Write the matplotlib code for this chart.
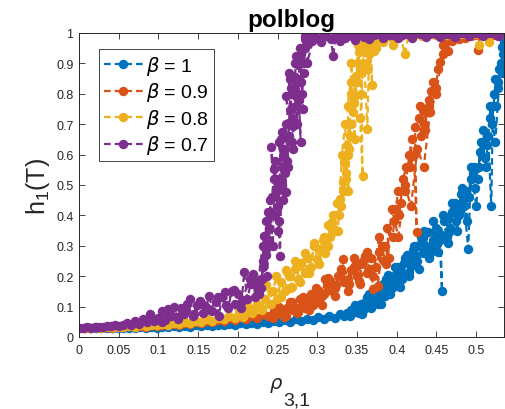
import matplotlib
matplotlib.use("Agg")
import matplotlib.pyplot as plt
from matplotlib.ticker import FuncFormatter, MultipleLocator

plt.rcParams['font.family'] = ['Liberation Sans', 'DejaVu Sans']
plt.rcParams['mathtext.fontset'] = 'dejavusans'

# ---------------- data ----------------
labels = ['1', '0.9', '0.8', '0.7']
colors = ['#0072BD', '#D95319', '#EDB120', '#7E2F8E']

blue_rho_low = [0.000,0.007,0.014,0.021,0.028,0.035,0.042,0.049,0.056,0.063,
                0.070,0.077,0.084,0.091,0.098,0.105,0.112,0.119,0.126,0.133,
                0.140,0.147,0.154,0.161,0.168,0.175,0.182,0.189,0.196,0.203,
                0.210,0.217,0.224,0.231,0.238,0.245,0.252,0.259,0.266,0.273,
                0.280,0.287,0.294,0.301,0.308,0.315,0.322,0.329,0.334,0.337]
blue_h_low = [0.030,0.031,0.029,0.031,0.030,0.029,0.031,0.030,0.028,0.031,
              0.030,0.032,0.029,0.033,0.031,0.034,0.032,0.035,0.033,0.036,
              0.034,0.038,0.035,0.039,0.037,0.041,0.038,0.043,0.040,0.045,
              0.042,0.047,0.044,0.050,0.046,0.052,0.048,0.055,0.050,0.058,
              0.053,0.059,0.056,0.066,0.060,0.070,0.064,0.076,0.070,0.080]
blue_rho_high = [0.340,0.343,0.341,0.346,0.349,0.347,0.352,0.355,0.353,0.358,
                 0.361,0.359,0.364,0.367,0.365,0.370,0.373,0.371,0.376,0.379,
                 0.377,0.382,0.385,0.383,0.388,0.391,0.389,0.394,0.397,0.395,
                 0.400,0.403,0.401,0.406,0.409,0.407,0.412,0.415,0.413,0.418,
                 0.421,0.419,0.424,0.427,0.425,0.430,0.433,0.431,0.436,0.439,
                 0.437,0.442,0.445,0.443,0.448,0.451,0.449,0.454,0.457,0.455,
                 0.460,0.463,0.461,0.466,0.469,0.467,0.472,0.475,0.473,0.478,
                 0.481,0.479,0.484,0.487,0.485,0.490,0.493,0.491,0.496,0.499,
                 0.497,0.502,0.505,0.503,0.508,0.511,0.509,0.514,0.517,0.515,
                 0.519,0.521,0.520,0.523,0.525,0.524,0.527,0.529,0.528,0.531,
                 0.532,0.533,0.534,0.535]
blue_h_high = [0.075,0.090,0.070,0.095,0.082,0.105,0.088,0.110,0.080,0.100,
               0.118,0.092,0.125,0.105,0.140,0.112,0.130,0.150,0.108,0.148,
               0.125,0.160,0.135,0.175,0.148,0.185,0.205,0.160,0.200,0.175,
               0.215,0.180,0.230,0.200,0.245,0.190,0.250,0.215,0.270,0.234,
               0.285,0.240,0.265,0.300,0.250,0.310,0.275,0.330,0.290,0.345,
               0.300,0.275,0.320,0.290,0.350,0.305,0.360,0.320,0.152,0.340,
               0.380,0.330,0.395,0.345,0.410,0.360,0.420,0.380,0.440,0.400,
               0.470,0.415,0.450,0.480,0.430,0.290,0.520,0.460,0.540,0.490,
               0.560,0.520,0.610,0.560,0.640,0.590,0.680,0.630,0.720,0.660,
               0.430,0.760,0.700,0.800,0.760,0.850,0.820,0.880,0.840,0.900,
               0.870,0.955,0.930,0.970]
blue_rho_extra = [0.356,0.362,0.368,0.374,0.380,0.386,0.392,0.398,0.404,0.410,
                  0.416,0.422,0.428,0.434,0.440,0.446,0.452,0.458,0.464,0.470,
                  0.476,0.482,0.488,0.494,0.500,0.506,0.512,0.518,0.524,0.530]
blue_h_extra = [0.075,0.130,0.095,0.155,0.110,0.190,0.140,0.230,0.165,0.260,
                0.200,0.300,0.225,0.350,0.260,0.380,0.280,0.400,0.310,0.440,
                0.350,0.490,0.380,0.560,0.430,0.640,0.560,0.760,0.640,0.880]

orange_rho_low = [0.000,0.007,0.014,0.021,0.028,0.035,0.042,0.049,0.056,0.063,
                  0.070,0.077,0.084,0.091,0.098,0.105,0.112,0.119,0.126,0.133,
                  0.140,0.147,0.154,0.161,0.168,0.175,0.182,0.189,0.196,0.203,
                  0.210,0.217,0.224,0.231,0.238]
orange_h_low = [0.030,0.031,0.030,0.032,0.031,0.033,0.031,0.034,0.032,0.035,
                0.033,0.037,0.034,0.039,0.036,0.041,0.038,0.044,0.040,0.047,
                0.043,0.050,0.046,0.053,0.049,0.057,0.052,0.062,0.056,0.066,
                0.060,0.070,0.064,0.075,0.068]
orange_rho_mid = [0.242,0.246,0.244,0.250,0.254,0.252,0.258,0.262,0.260,0.266,
                  0.270,0.268,0.274,0.278,0.276,0.282,0.286,0.284,0.290,0.294,
                  0.292,0.298,0.302,0.300,0.306,0.310,0.308,0.314,0.318,0.316,
                  0.322,0.326,0.324,0.330,0.334,0.332,0.338,0.342,0.340,0.346,
                  0.350,0.354,0.352,0.358,0.362,0.360,0.366,0.370,0.368,0.374,
                  0.378,0.376,0.382,0.384]
orange_h_mid = [0.070,0.085,0.062,0.090,0.075,0.100,0.080,0.095,0.070,0.105,
                0.088,0.115,0.095,0.125,0.082,0.110,0.125,0.095,0.120,0.105,
                0.140,0.115,0.150,0.125,0.135,0.190,0.140,0.165,0.150,0.185,
                0.160,0.200,0.170,0.215,0.180,0.257,0.190,0.220,0.175,0.230,
                0.200,0.240,0.185,0.250,0.210,0.265,0.225,0.158,0.260,0.230,
                0.280,0.169,0.300,0.250]
orange_rho_high = [0.385,0.390,0.388,0.395,0.398,0.396,0.402,0.405,0.403,0.408,
                   0.412,0.410,0.416,0.419,0.417,0.422,0.425,0.423,0.428,0.431,
                   0.429,0.434,0.437,0.435,0.440,0.443,0.441,0.446,0.449,0.452,
                   0.455,0.458,0.461,0.464,0.467,0.470,0.474,0.478,0.482,0.486,
                   0.490,0.494,0.498,0.502,0.505,0.509,0.513,0.517,0.521,0.525,
                   0.529,0.533]
orange_h_high = [0.300,0.260,0.360,0.330,0.420,0.380,0.480,0.440,0.400,0.520,
                 0.560,0.480,0.600,0.650,0.560,0.600,0.345,0.690,0.720,0.660,
                 0.760,0.700,0.740,0.680,0.780,0.810,0.760,0.840,0.820,0.880,
                 0.905,0.930,0.970,0.940,0.985,0.975,0.990,0.980,0.992,0.985,
                 0.993,0.990,0.995,0.945,0.992,0.996,0.990,0.997,0.995,0.998,
                 0.994,0.999]
orange_rho_extra = [0.250,0.258,0.266,0.274,0.282,0.290,0.298,0.306,0.314,0.322,
                    0.330,0.338,0.346,0.354,0.362,0.370,0.378,0.386,0.394,0.402,
                    0.410,0.418,0.426,0.434,0.442,0.450,0.458]
orange_h_extra = [0.100,0.065,0.115,0.078,0.130,0.090,0.160,0.105,0.195,0.135,
                  0.225,0.150,0.260,0.175,0.280,0.200,0.330,0.240,0.420,0.330,
                  0.500,0.430,0.620,0.560,0.740,0.800,0.960]

yellow_rho_low = [0.000,0.007,0.014,0.021,0.028,0.035,0.042,0.049,0.056,0.063,
                  0.070,0.077,0.084,0.091,0.098,0.105,0.112,0.119,0.126,0.133,
                  0.140,0.147,0.154,0.161,0.168,0.175,0.182,0.189,0.196,0.202,
                  0.208,0.214,0.219,0.224,0.229,0.234,0.239,0.244,0.249,0.254,
                  0.259,0.264,0.268,0.272,0.276,0.280,0.284,0.288,0.292,0.296,
                  0.300,0.304,0.307,0.310,0.313,0.316,0.319,0.322,0.325,0.327]
yellow_h_low = [0.030,0.031,0.030,0.032,0.031,0.033,0.032,0.034,0.033,0.036,
                0.034,0.038,0.036,0.040,0.038,0.043,0.040,0.046,0.043,0.050,
                0.046,0.054,0.050,0.058,0.054,0.063,0.058,0.070,0.064,0.080,
                0.072,0.095,0.085,0.110,0.095,0.125,0.110,0.150,0.125,0.180,
                0.150,0.200,0.165,0.225,0.190,0.245,0.210,0.260,0.230,0.300,
                0.255,0.290,0.320,0.275,0.370,0.330,0.377,0.350,0.440,0.400]
yellow_rho_high = [0.329,0.332,0.330,0.334,0.336,0.333,0.337,0.339,0.336,0.341,
                   0.343,0.340,0.338,0.342,0.345,0.343,0.347,0.349,0.346,0.351,
                   0.353,0.350,0.355,0.357,0.354,0.359,0.361,0.358,0.363,0.365,
                   0.362,0.367,0.369,0.366,0.371,0.373,0.370,0.375,0.377,0.374,
                   0.379,0.383,0.387,0.391,0.395,0.400,0.405,0.410,0.415,0.420,
                   0.426,0.432,0.438,0.444,0.450,0.456,0.462,0.468,0.474,0.480,
                   0.486,0.492,0.498,0.504,0.510,0.516,0.522,0.528,0.534]
yellow_h_high = [0.455,0.510,0.430,0.575,0.520,0.480,0.630,0.600,0.540,0.660,
                 0.700,0.620,0.760,0.838,0.740,0.800,0.794,0.860,0.770,0.900,
                 0.937,0.840,0.880,0.530,0.720,0.950,0.900,0.970,0.684,0.930,
                 0.880,0.960,0.830,0.975,0.940,0.985,0.960,0.975,0.990,0.950,
                 0.985,0.970,0.992,0.988,0.960,0.993,0.990,0.930,0.995,0.992,
                 0.997,0.990,0.996,0.998,0.994,0.997,0.995,0.999,0.996,0.998,
                 0.997,0.999,0.998,0.960,0.998,0.970,0.999,0.998,0.999]
yellow_rho_extra = [0.200,0.206,0.212,0.218,0.224,0.230,0.236,0.242,0.248,0.254,
                    0.260,0.266,0.272,0.278,0.284,0.290,0.296,0.302,0.308,0.314,
                    0.320,0.326,0.331,0.335,0.339,0.343,0.347,0.351,0.355,0.359,
                    0.363,0.367]
yellow_h_extra = [0.100,0.065,0.120,0.080,0.140,0.090,0.170,0.110,0.200,0.130,
                  0.220,0.160,0.250,0.180,0.275,0.210,0.310,0.240,0.330,0.300,
                  0.400,0.350,0.600,0.700,0.480,0.900,0.650,0.960,0.800,0.990,
                  0.880,0.990]

purple_rho_low = [0.000,0.005,0.010,0.015,0.020,0.025,0.030,0.035,0.040,0.045,
                  0.050,0.055,0.060,0.065,0.070,0.075,0.080,0.085,0.090,0.095,
                  0.100,0.104,0.108,0.112,0.116,0.120,0.124,0.128,0.132,0.136,
                  0.140,0.144,0.148,0.152,0.156,0.160,0.164,0.168,0.172,0.176,
                  0.180,0.184,0.188,0.192,0.196,0.200,0.204,0.208,0.212,0.216,
                  0.219,0.222,0.225,0.227]
purple_h_low = [0.030,0.031,0.032,0.031,0.033,0.034,0.033,0.036,0.035,0.038,
                0.037,0.041,0.045,0.040,0.052,0.044,0.059,0.048,0.076,0.053,
                0.062,0.085,0.055,0.092,0.068,0.100,0.060,0.095,0.075,0.110,
                0.125,0.070,0.105,0.120,0.080,0.098,0.136,0.085,0.115,0.070,
                0.130,0.147,0.095,0.152,0.110,0.140,0.095,0.213,0.125,0.175,
                0.207,0.130,0.185,0.140]
purple_rho_mid = [0.229,0.232,0.230,0.233,0.235,0.232,0.236,0.238,0.235,0.239,
                  0.241,0.239,0.243,0.245,0.242,0.246,0.248,0.245,0.250,0.252,
                  0.249,0.253,0.255,0.252,0.256,0.258,0.255,0.259,0.261,0.258,
                  0.262,0.264,0.261,0.265,0.267,0.264,0.268,0.270,0.267,0.271,
                  0.273,0.270,0.274,0.276,0.273,0.277,0.279,0.276,0.280,0.282,
                  0.279,0.283,0.285,0.282,0.286,0.288,0.285,0.289,0.291,0.290]
purple_h_mid = [0.160,0.250,0.190,0.333,0.290,0.230,0.380,0.410,0.270,0.360,
                0.410,0.320,0.460,0.520,0.625,0.400,0.480,0.553,0.430,0.380,
                0.520,0.267,0.560,0.640,0.500,0.600,0.673,0.540,0.477,0.620,
                0.580,0.660,0.794,0.700,0.750,0.870,0.640,0.720,0.820,0.800,
                0.760,0.695,0.840,0.900,0.925,0.780,0.640,0.850,0.838,0.750,
                0.930,0.870,0.980,0.900,0.960,0.985,0.950,0.970,0.990,0.980]
purple_rho_top = [0.293,0.299,0.305,0.311,0.317,0.320,0.323,0.329,0.335,0.341,
                  0.347,0.353,0.359,0.365,0.371,0.377,0.383,0.389,0.395,0.401,
                  0.407,0.413,0.419,0.425,0.431,0.437,0.443,0.449,0.455,0.461,
                  0.467,0.473,0.479,0.485,0.491,0.497,0.503,0.509,0.515,0.521,
                  0.527,0.533]
purple_h_top = [0.975,0.985,0.972,0.990,0.980,0.925,0.988,0.975,0.985,0.994,
                0.978,0.995,0.988,0.980,0.992,0.997,0.982,0.998,0.995,0.984,
                0.994,0.998,0.985,0.999,0.997,0.986,0.999,0.997,0.988,0.998,
                0.999,0.987,1.000,0.999,0.990,1.000,0.999,0.989,0.999,1.000,
                0.990,1.000]
purple_rho_extra = [0.105,0.115,0.125,0.135,0.145,0.155,0.165,0.175,0.185,0.195,
                    0.205,0.215,0.225,0.231,0.237,0.240,0.244,0.247,0.251,0.254,
                    0.257,0.260,0.263,0.266,0.269,0.272,0.275,0.278,0.281,0.284,
                    0.287,0.296,0.308,0.320,0.332,0.344,0.356,0.368,0.380,0.392,
                    0.404,0.416,0.428,0.440,0.452,0.464,0.476,0.488,0.500,0.512,
                    0.524,0.535]
purple_h_extra = [0.050,0.075,0.065,0.090,0.075,0.110,0.090,0.130,0.105,0.155,
                  0.120,0.190,0.160,0.300,0.200,0.450,0.300,0.580,0.350,0.650,
                  0.450,0.700,0.560,0.850,0.620,0.900,0.700,0.950,0.800,0.990,
                  0.900,0.990,0.995,0.985,0.998,0.990,0.997,0.993,0.999,0.995,
                  0.998,0.996,0.999,0.997,0.999,0.998,0.999,0.998,1.000,0.999,
                  1.000,1.000]

# each series: main run followed by the extra scattered run (same colour)
series_pieces = [
    [(blue_rho_low + blue_rho_high, blue_h_low + blue_h_high),
     (blue_rho_extra, blue_h_extra)],
    [(orange_rho_low + orange_rho_mid + orange_rho_high,
      orange_h_low + orange_h_mid + orange_h_high),
     (orange_rho_extra, orange_h_extra)],
    [(yellow_rho_low + yellow_rho_high, yellow_h_low + yellow_h_high),
     (yellow_rho_extra, yellow_h_extra)],
    [(purple_rho_low + purple_rho_mid + purple_rho_top,
      purple_h_low + purple_h_mid + purple_h_top),
     (purple_rho_extra, purple_h_extra)],
]

# ---------------- figure ----------------
fig = plt.figure(figsize=(5.05, 4.10), dpi=100)
ax = fig.add_axes([79 / 505, 72 / 410, 425 / 505, 304 / 410])

axcol = '#262626'
style = dict(linestyle=(0, (3.0, 1.8)), linewidth=1.6, marker='o',
             markersize=6.8, markeredgewidth=0)
for pieces, lab, col in zip(series_pieces, labels, colors):
    for k, (rho, h) in enumerate(pieces):
        ax.plot(rho, h, color=col,
                label=(r'$\beta$ = ' + lab) if k == 0 else '_nolegend_',
                **style)

ax.set_xlim(0, 0.535)
ax.set_ylim(0, 1)
ax.xaxis.set_major_locator(MultipleLocator(0.05))
ax.yaxis.set_major_locator(MultipleLocator(0.1))
fmt = FuncFormatter(lambda v, p: '%g' % round(v, 4))
ax.xaxis.set_major_formatter(fmt)
ax.yaxis.set_major_formatter(fmt)
ax.tick_params(direction='in', length=4, width=0.6, colors=axcol,
               labelsize=9, top=True, right=True)
ax.tick_params(axis='x', pad=5)
ax.tick_params(axis='y', pad=4)
for s in ax.spines.values():
    s.set_color(axcol)
    s.set_linewidth(0.7)

ax.set_title('polblog', fontsize=17.5, fontweight='bold', pad=5, color='black')
ax.set_ylabel(r'h$_{\mathregular{1}}$(T)', fontsize=18, color=axcol, labelpad=3)

# x label: rho with a full-size subscript as in the reference
fig.text(269 / 505, 1 - 389 / 410, r'$\rho$', fontsize=14, color=axcol,
         ha='left', va='baseline')
fig.text(283 / 505, 1 - 406 / 410, '3,1', fontsize=14, color=axcol,
         ha='left', va='baseline')

leg = ax.legend(loc='upper left', bbox_to_anchor=(20 / 425, 1 - 16 / 304),
                borderaxespad=0, fontsize=14, handlelength=2.0,
                handletextpad=0.15, labelspacing=0.18, borderpad=0.25,
                fancybox=False, framealpha=1, edgecolor=axcol, numpoints=1)
leg.get_frame().set_linewidth(0.6)

fig.savefig('out.png', dpi=100)
